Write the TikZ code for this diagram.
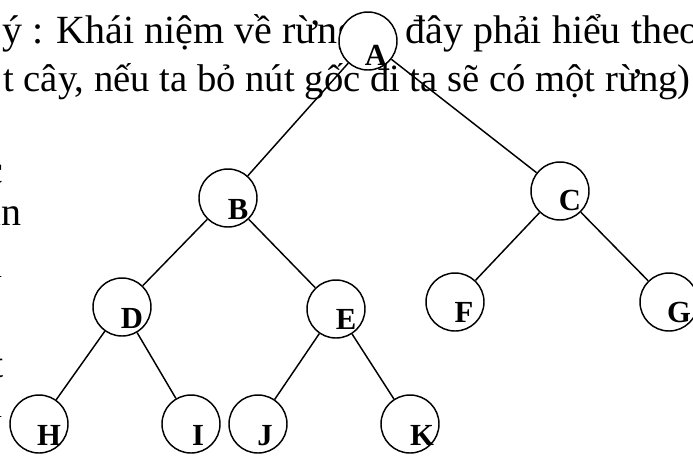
\documentclass[tikz,border=0pt]{standalone}
\usepackage{fontspec}
\setmainfont{Liberation Serif}
\usetikzlibrary{positioning}

\begin{document}
\begin{tikzpicture}[
    x=0.75pt, y=-0.75pt,
    vertex/.style={draw, circle, fill=white, minimum size=43.5pt, inner sep=0pt, line width=1.1pt},
    lbl/.style={font=\fontsize{23}{26}\selectfont\bfseries, inner sep=0pt},
    txt/.style={font=\fontsize{30}{35}\selectfont, inner sep=0pt, anchor=base west},
    frag/.style={font=\fontsize{30}{35}\selectfont, inner sep=0pt, anchor=base east},
    edge/.style={line width=1.1pt}
]
\useasboundingbox (0,0) rectangle (693,455);
\clip (0,0) rectangle (693,455);

% Page text behind the tree
\node[txt] (line1a) at (2,43) {ý : Khái niệm về rừng ở};
\node[txt] (line1b) at (405,43) {\makebox[221pt][s]{đây phải hiểu theo}};
\node[txt, font=\fontsize{29}{35}\selectfont] (line2) at (3,91) {t cây, nếu ta bỏ nút gốc đi ta sẽ có một rừng)};

% Cut-off letters at the left margin
\node[frag] (f1) at (4,183) {c};
\node[frag] (f2) at (22,225) {an};
\node[frag] (f3) at (3,277) {l};
\node[frag] (f4) at (4,377) {t};
\node[frag] (f5) at (3,417) {l};
\node[frag] (f6) at (3,457) {l};

% Level 0
\node[vertex] (A) at (368,41) {};
% Level 1
\node[vertex] (B) at (228,198) {};
\node[vertex] (C) at (560,191) {};
% Level 2
\node[vertex] (D) at (122,307) {};
\node[vertex] (E) at (336,309) {};
\node[vertex] (F) at (455,302) {};
\node[vertex] (G) at (669,302) {};
% Level 3
\node[vertex] (H) at (39,424) {};
\node[vertex] (I) at (191,424) {};
\node[vertex] (J) at (258,424) {};
\node[vertex] (K) at (410,424) {};

% Letters sit low and to the right in each circle
\node[lbl] (lA) at ([shift={(8,14)}]A.center) {A};
\node[lbl] (lB) at ([shift={(10,11)}]B.center) {B};
\node[lbl] (lC) at ([shift={(10,9)}]C.center) {C};
\node[lbl] (lD) at ([shift={(10,11)}]D.center) {D};
\node[lbl] (lE) at ([shift={(10,10)}]E.center) {E};
\node[lbl] (lF) at ([shift={(9,10)}]F.center) {F};
\node[lbl] (lG) at ([shift={(10,10)}]G.center) {G};
\node[lbl] (lH) at ([shift={(10,11)}]H.center) {H};
\node[lbl] (lI) at ([shift={(7,11)}]I.center) {I};
\node[lbl] (lJ) at ([shift={(7,12)}]J.center) {J};
\node[lbl] (lK) at ([shift={(12,11)}]K.center) {K};

% Edges
\draw[edge] (A) -- (B);
\draw[edge] (A) -- (C);
\draw[edge] (B) -- (D);
\draw[edge] (B) -- (E);
\draw[edge] (C) -- (F);
\draw[edge] (C) -- (G);
\draw[edge] (D) -- (H);
\draw[edge] (D) -- (I);
\draw[edge] (E) -- (J);
\draw[edge] (E) -- (K);

\end{tikzpicture}
\end{document}
